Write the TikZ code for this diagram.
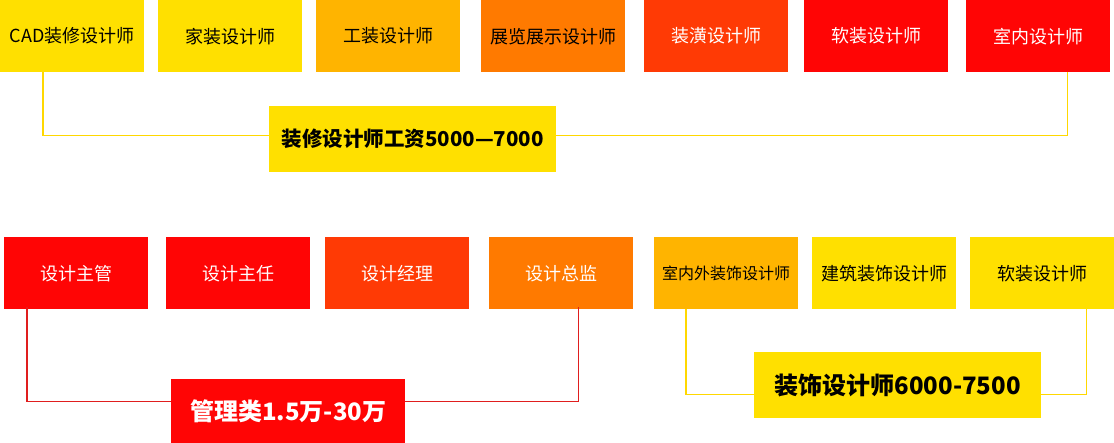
\documentclass[tikz,border=0pt]{standalone}
\usepackage{fontspec}
\setmainfont{Noto Sans CJK SC}
\definecolor{cyel}{HTML}{FFE000}
\definecolor{camb}{HTML}{FFB400}
\definecolor{corg}{HTML}{FF7A00}
\definecolor{cro}{HTML}{FF3A05}
\definecolor{cred}{HTML}{FF0505}
\definecolor{lyel}{HTML}{FFD800}
\definecolor{lred}{HTML}{E01E1E}
\begin{document}
\begin{tikzpicture}[x=1pt,y=-1pt,
  box/.style={rectangle, inner sep=0pt, minimum width=144pt, minimum height=72pt,
    anchor=north west, font=\fontsize{18}{18}\selectfont},
  dk/.style={text=black},
  wt/.style={text=white},
  lab/.style={rectangle, inner sep=0pt, anchor=north west, font=\bfseries},
  conn/.style={line width=1.2pt}]
\useasboundingbox (0,0) rectangle (1114,443);
% top row
\node[box, fill=cyel, dk] (t1) at (0,0) {CAD装修设计师};
\node[box, fill=cyel, dk] (t2) at (158,0) {家装设计师};
\node[box, fill=camb, dk] (t3) at (316,0) {工装设计师};
\node[box, fill=corg, dk] (t4) at (481,0) {展览展示设计师};
\node[box, fill=cro, wt] (t5) at (644,0) {装潢设计师};
\node[box, fill=cred, wt] (t6) at (804,0) {软装设计师};
\node[box, fill=cred, wt] (t7) at (966,0) {室内设计师};
\node[lab, fill=cyel, text=black, minimum width=287pt, minimum height=66pt,
  font=\bfseries\fontsize{20.5}{20.5}\selectfont] (l1) at (269,106) {装修设计师工资5000—7000};
\draw[conn, lyel] (t1.south west) ++(43,0) |- ([yshift=4pt]l1.west);
\draw[conn, lyel] ([yshift=4pt]l1.east) -| ([xshift=-43pt]t7.south east);
% bottom row
\node[box, fill=cred, wt] (b1) at (4,237) {设计主管};
\node[box, fill=cred, wt] (b2) at (166,237) {设计主任};
\node[box, fill=cro, wt] (b3) at (325,237) {设计经理};
\node[box, fill=corg, wt] (b4) at (489,237) {设计总监};
\node[box, fill=camb, dk, font=\fontsize{16}{16}\selectfont] (b5) at (654,237) {室内外装饰设计师};
\node[box, fill=cyel, dk] (b6) at (812,237) {建筑装饰设计师};
\node[box, fill=cyel, dk] (b7) at (970,237) {软装设计师};
\node[lab, fill=cred, text=white, minimum width=234pt, minimum height=64pt,
  font=\bfseries\fontsize{24}{24}\selectfont] (l2) at (171,379) {管理类1.5万-30万};
\node[lab, fill=cyel, text=black, minimum width=287pt, minimum height=66pt,
  font=\bfseries\fontsize{24}{24}\selectfont] (l3) at (754,352) {装饰设计师6000-7500};
\draw[conn, lred] ([yshift=2pt]b1.south west) ++(23,0) |- ([yshift=10pt]l2.west);
\draw[conn, lred] ([yshift=10pt]l2.east) -| ([xshift=-55pt,yshift=2pt]b4.south east);
\draw[conn, lyel] (b5.south west) ++(32,0) |- ([yshift=-9pt]l3.west);
\draw[conn, lyel] ([yshift=-9pt]l3.east) -| ([xshift=-28pt]b7.south east);
\end{tikzpicture}
\end{document}
